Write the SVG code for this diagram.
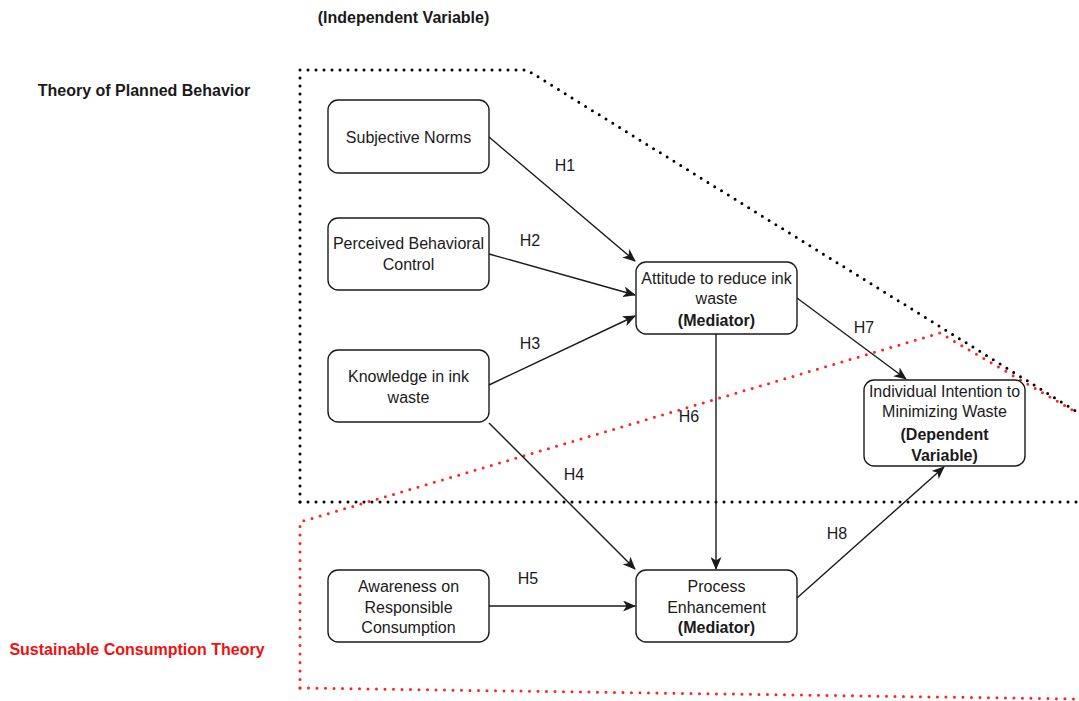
<svg xmlns="http://www.w3.org/2000/svg" width="1079" height="701" viewBox="0 0 1079 701">
<style>
.bg{fill:#ffffff}
.node rect{fill:#ffffff;stroke:#1a1a1a;stroke-width:1.4}
.t{font-family:"Liberation Sans",Arial,sans-serif;font-size:16px;fill:#1a1a1a;text-anchor:middle}
.b{font-weight:bold}
.lbl{font-family:"Liberation Sans",Arial,sans-serif;font-size:16px;fill:#1a1a1a;text-anchor:middle}
.edge{fill:none;stroke:#1a1a1a;stroke-width:1.4;marker-end:url(#arr)}
.dotk{fill:none;stroke:#000;stroke-width:3;stroke-dasharray:0 8;stroke-linecap:round}
.dotr{fill:none;stroke:#ff2222;stroke-width:3;stroke-dasharray:0 8.5;stroke-linecap:round}
</style>
<defs>
<marker id="arr" viewBox="0 0 13 11" refX="12" refY="5.5" markerWidth="13" markerHeight="11" markerUnits="userSpaceOnUse" orient="auto">
<path d="M0,0 L13,5.5 L0,11 L3.5,5.5 z" fill="#1a1a1a"/>
</marker>
</defs>
<rect class="bg" x="0" y="0" width="1079" height="701"/>
<g id="titles">
<text class="t b" x="403.5" y="23">(Independent Variable)</text>
<text class="t b" x="144" y="96">Theory of Planned Behavior</text>
<text class="t b" x="137" y="655" style="fill:#ee1111">Sustainable Consumption Theory</text>
</g>
<g id="regions">
<path class="dotr" d="M300,688 L300,522 L940,333 L1079,414"/>
<path class="dotr" d="M300,688 L1079,699"/>
<path class="dotk" d="M300,502 L300,70 L527,70 L1079,413"/>
<path class="dotk" d="M300,502 L1079,502"/>
</g>
<g id="connectors">
<line class="edge" x1="489" y1="137" x2="635" y2="261"/>
<line class="edge" x1="489" y1="254" x2="635" y2="295"/>
<line class="edge" x1="489" y1="385" x2="635" y2="316"/>
<line class="edge" x1="489" y1="423" x2="635" y2="569"/>
<line class="edge" x1="489" y1="606" x2="635" y2="606"/>
<line class="edge" x1="716" y1="334" x2="716" y2="569"/>
<line class="edge" x1="797" y1="298" x2="906" y2="379"/>
<line class="edge" x1="797" y1="598" x2="944" y2="467"/>
<text class="lbl" x="565" y="171">H1</text>
<text class="lbl" x="530" y="246">H2</text>
<text class="lbl" x="530" y="349">H3</text>
<text class="lbl" x="574" y="480">H4</text>
<text class="lbl" x="528" y="584">H5</text>
<text class="lbl" x="689" y="422">H6</text>
<text class="lbl" x="864" y="333">H7</text>
<text class="lbl" x="837" y="539">H8</text>
</g>
<g id="subjective-norms" class="node">
<rect x="328" y="100" width="161" height="73" rx="10"/>
<text class="t" x="408.5" y="143">Subjective Norms</text>
</g>
<g id="perceived-behavioral-control" class="node">
<rect x="328" y="218" width="161" height="72" rx="10"/>
<text class="t" x="408.5" y="249">Perceived Behavioral</text>
<text class="t" x="408.5" y="270">Control</text>
</g>
<g id="knowledge" class="node">
<rect x="328" y="350" width="161" height="72" rx="10"/>
<text class="t" x="408.5" y="382">Knowledge in ink</text>
<text class="t" x="408.5" y="403">waste</text>
</g>
<g id="awareness" class="node">
<rect x="328" y="570" width="161" height="72" rx="10"/>
<text class="t" x="408.5" y="592">Awareness on</text>
<text class="t" x="408.5" y="613">Responsible</text>
<text class="t" x="408.5" y="633">Consumption</text>
</g>
<g id="attitude" class="node">
<rect x="636" y="262" width="161" height="72" rx="10"/>
<text class="t" x="716.5" y="284">Attitude to reduce ink</text>
<text class="t" x="716.5" y="304">waste</text>
<text class="t b" x="716.5" y="326">(Mediator)</text>
</g>
<g id="process-enhancement" class="node">
<rect x="636" y="570" width="161" height="72" rx="10"/>
<text class="t" x="716.5" y="592">Process</text>
<text class="t" x="716.5" y="613">Enhancement</text>
<text class="t b" x="716.5" y="633">(Mediator)</text>
</g>
<g id="intention" class="node">
<rect x="864" y="380" width="161" height="86" rx="10"/>
<text class="t" x="944.5" y="397">Individual Intention to</text>
<text class="t" x="944.5" y="417">Minimizing Waste</text>
<text class="t b" x="944.5" y="440">(Dependent</text>
<text class="t b" x="944.5" y="461">Variable)</text>
</g>
</svg>
